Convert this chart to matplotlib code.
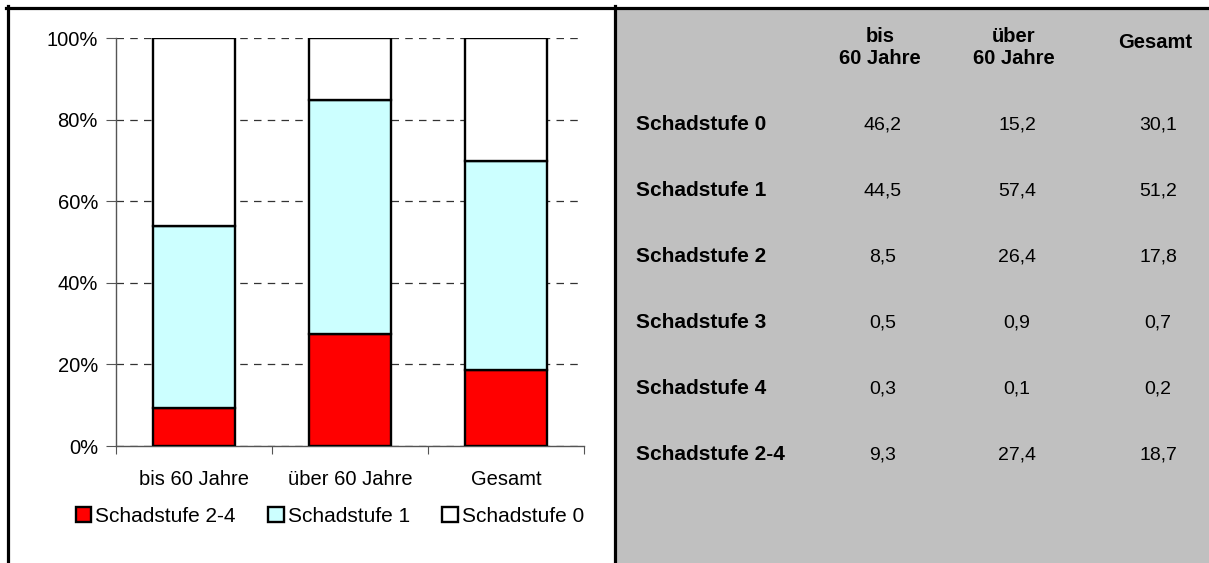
import matplotlib

matplotlib.use("Agg")

import matplotlib.pyplot as plt
from matplotlib.lines import Line2D
from matplotlib.patches import Rectangle
from matplotlib.ticker import FuncFormatter

groups = ["bis 60 Jahre", "über 60 Jahre", "Gesamt"]
group_headers = ["bis\n60 Jahre", "über\n60 Jahre", "Gesamt"]

stufe_0 = [46.2, 15.2, 30.1]
stufe_1 = [44.5, 57.4, 51.2]
stufe_2 = [8.5, 26.4, 17.8]
stufe_3 = [0.5, 0.9, 0.7]
stufe_4 = [0.3, 0.1, 0.2]
stufe_2_4 = [9.3, 27.4, 18.7]

table_rows = [
    ("Schadstufe 0", stufe_0),
    ("Schadstufe 1", stufe_1),
    ("Schadstufe 2", stufe_2),
    ("Schadstufe 3", stufe_3),
    ("Schadstufe 4", stufe_4),
    ("Schadstufe 2-4", stufe_2_4),
]

plt.rcParams.update({
    "font.family": ["Liberation Sans", "DejaVu Sans"],
    "font.size": 14.5,
})

W, H = 1209, 563
fig = plt.figure(figsize=(W / 100, H / 100), dpi=100)


def fx(px):
    return px / W


def fy(py):
    return 1 - py / H


# panel frame and grey table background
fig.patches.append(Rectangle((fx(616), 0), 1 - fx(616), fy(9), transform=fig.transFigure,
                             facecolor="#c0c0c0", edgecolor="none", zorder=0))
for xs, ys in [([fx(6), 1], [fy(7.5), fy(7.5)]),
               ([fx(7.5), fx(7.5)], [0, fy(6)]),
               ([fx(614.5), fx(614.5)], [0, fy(6)])]:
    fig.add_artist(Line2D(xs, ys, transform=fig.transFigure, color="black", lw=2.3))

ax = fig.add_axes([fx(116), fy(446), fx(584) - fx(116), fy(38) - fy(446)])
x = range(len(groups))
bottom_1 = stufe_2_4
bottom_0 = [a + b for a, b in zip(stufe_2_4, stufe_1)]
kw = dict(width=0.525, edgecolor="black", linewidth=1.7, zorder=3)
ax.bar(x, stufe_2_4, color="#ff0000", label="Schadstufe 2-4", **kw)
ax.bar(x, stufe_1, bottom=bottom_1, color="#ccffff", label="Schadstufe 1", **kw)
ax.bar(x, stufe_0, bottom=bottom_0, color="white", label="Schadstufe 0", **kw)

ax.set_xlim(-0.5, 2.5)
ax.set_ylim(0, 100)
ax.set_yticks(range(0, 101, 20))
ax.yaxis.set_major_formatter(FuncFormatter(lambda v, _: f"{v:.0f}%"))
ax.set_xticks([-0.5, 0.5, 1.5, 2.5])
ax.set_xticklabels([])
ax.set_xticks(list(x), minor=True)
ax.set_xticklabels(groups, minor=True)
ax.tick_params(axis="x", which="minor", length=0, pad=17)
ax.tick_params(axis="x", which="major", length=6, color="#555555")
ax.tick_params(axis="y", length=7, color="#555555", pad=6)
ax.yaxis.grid(True, color="#333333", linestyle=(0, (6, 5)), linewidth=0.9, zorder=0)
ax.set_axisbelow(True)
for side in ("top", "right"):
    ax.spines[side].set_visible(False)
for side in ("left", "bottom"):
    ax.spines[side].set_color("#555555")
    ax.spines[side].set_linewidth(1.0)

fig.legend(loc="center", bbox_to_anchor=(fx(330), fy(516)), ncol=3, frameon=False,
           handlelength=0.75, handleheight=0.75, handletextpad=0.2, columnspacing=1.55,
           borderaxespad=0, fontsize=15)

# table of values
col_x = [880, 1014, 1155]
for cx, head in zip(col_x, group_headers):
    hy = 47 if "\n" in head else 42
    fig.text(fx(cx), fy(hy), head, ha="center", va="center", fontsize=14.5,
             fontweight="bold", linespacing=1.2)
for i, (name, vals) in enumerate(table_rows):
    ry = 125 + 66 * i
    fig.text(fx(636), fy(ry), name, ha="left", va="center", fontsize=15, fontweight="bold")
    for cx, v in zip(col_x, vals):
        fig.text(fx(cx + 3), fy(ry), f"{v:.1f}".replace(".", ","), ha="center",
                 va="center", fontsize=14)

fig.savefig("out.png", dpi=100, facecolor="white")
